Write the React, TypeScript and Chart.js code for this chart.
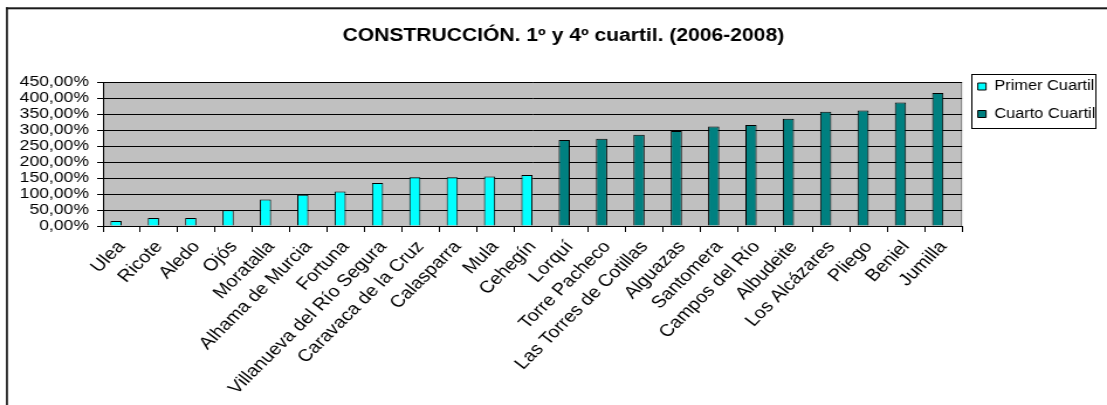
import React, { useEffect, useRef } from 'react';
import { Chart, registerables } from 'chart.js';

Chart.register(...registerables);

// ---- data ----
const chartTitle = 'CONSTRUCCIÓN. 1º y 4º cuartil. (2006-2008)';
const categories = [
  'Ulea', 'Ricote', 'Aledo', 'Ojós', 'Moratalla', 'Alhama de Murcia', 'Fortuna',
  'Villanueva del Río Segura', 'Caravaca de la Cruz', 'Calasparra', 'Mula', 'Cehegín',
  'Lorquí', 'Torre Pacheco', 'Las Torres de Cotillas', 'Alguazas', 'Santomera',
  'Campos del Río', 'Albudeite', 'Los Alcázares', 'Pliego', 'Beniel', 'Jumilla',
];
const seriesNames = ['Primer Cuartil', 'Cuarto Cuartil'];
const primerCuartil = [16, 25, 25, 49, 83, 98, 108, 134, 152, 152, 155, 159,
  null, null, null, null, null, null, null, null, null, null, null];
const cuartoCuartil = [null, null, null, null, null, null, null, null, null, null, null, null,
  269, 273, 285, 297, 311, 316, 335, 357, 361, 386, 416];
const yMin = 0;
const yMax = 450;
const yStep = 50;

// drawn narrower and stretched horizontally by CSS, as in the reference picture
const DRAW_W = 946;
const DRAW_H = 405;
const FONT = "'Liberation Sans', Arial, sans-serif";

const decorPlugin = {
  id: 'decor',
  beforeDraw(chart: any) {
    const { ctx, chartArea: a } = chart;
    ctx.save();
    ctx.fillStyle = '#ffffff';
    ctx.fillRect(0, 0, chart.width, chart.height);
    ctx.fillStyle = '#1a1a1a';
    ctx.fillRect(5.1, 7.3, chart.width, 2);
    ctx.fillRect(5.1, 7.3, 1.7, chart.height);
    ctx.fillStyle = '#c0c0c0';
    ctx.fillRect(a.left, a.top, a.right - a.left, a.bottom - a.top);
    ctx.strokeStyle = '#808080';
    ctx.lineWidth = 1;
    ctx.strokeRect(a.left + 0.5, a.top + 0.5, a.right - a.left - 1, a.bottom - a.top);
    ctx.restore();
  },
  afterDraw(chart: any) {
    const lg = chart.legend;
    if (!lg) return;
    const { ctx } = chart;
    ctx.save();
    ctx.strokeStyle = '#000';
    ctx.lineWidth = 1;
    const l = Math.round(lg.left + 7.5) + 0.5;
    const r = Math.round(lg.left + lg.width - 10) + 0.5;
    ctx.strokeRect(l, 74.5, r - l, 54);
    ctx.restore();
  },
};

export default function App() {
  const ref = useRef<HTMLCanvasElement | null>(null);

  useEffect(() => {
    document.body.style.margin = '0';
    if (!ref.current) return;
    const chart = new Chart(ref.current, {
      type: 'bar',
      data: {
        labels: categories,
        datasets: [
          {
            label: seriesNames[0],
            data: primerCuartil,
            backgroundColor: '#00ffff',
            borderColor: '#000000',
            borderWidth: 1,
            stack: 'q',
          },
          {
            label: seriesNames[1],
            data: cuartoCuartil,
            backgroundColor: '#008080',
            borderColor: '#000000',
            borderWidth: 1,
            stack: 'q',
          },
          {
            label: '',
            data: [],
            stack: 'gap',
          },
        ] as any,
      },
      options: {
        responsive: false,
        animation: false,
        events: [],
        devicePixelRatio: 1,
        datasets: {
          bar: { categoryPercentage: 0.6, barPercentage: 1 },
        },
        layout: { padding: { left: 17, right: 0, top: 0, bottom: 0 } },
        plugins: {
          tooltip: { enabled: false },
          title: {
            display: true,
            text: chartTitle,
            color: '#000',
            font: { family: FONT, size: 18, weight: 'bold' },
            padding: { top: 25.2, bottom: 35.2 },
            fullSize: true,
          },
          legend: {
            display: true,
            position: 'right',
            align: 'start',
            fullSize: true,
            title: { display: true, text: '', padding: { top: 51.6, bottom: 0 }, font: { size: 12 } },
            labels: {
              boxWidth: 7,
              boxHeight: 7,
              padding: 13.5,
              color: '#000',
              textAlign: 'left',
              font: { family: FONT, size: 14 },
              filter: (item: any) => item.datasetIndex < 2,
            },
          },
        },
        scales: {
          x: {
            offset: true,
            grid: { display: true, drawOnChartArea: false, drawTicks: true, tickLength: 6, color: '#000', offset: true },
            border: { display: true, color: '#000' },
            ticks: {
              autoSkip: false,
              minRotation: 49,
              maxRotation: 49,
              padding: 5,
              color: '#000',
              font: { family: FONT, size: 17 },
            },
            afterFit: (s: any) => { s.height = DRAW_H - 226; },
          },
          y: {
            min: yMin,
            max: yMax,
            stacked: false,
            grid: { color: '#000', lineWidth: 1, tickLength: 5, drawTicks: true },
            border: { display: true, color: '#000' },
            ticks: {
              stepSize: yStep,
              autoSkip: false,
              padding: 7,
              color: '#000',
              font: { family: FONT, size: 15 },
              callback: (v: any) => `${Number(v).toFixed(2).replace('.', ',')}%`,
            },
            afterFit: (s: any) => { s.width = 71; },
          },
        },
      } as any,
      plugins: [decorPlugin],
    });
    return () => chart.destroy();
  }, []);

  return (
    <div style={{ position: 'absolute', left: 0, top: 0, width: 1107, height: 405, background: '#fff' }}>
      <canvas
        ref={ref}
        width={DRAW_W}
        height={DRAW_H}
        style={{ display: 'block', width: '1107px', height: '405px' }}
      />
    </div>
  );
}
